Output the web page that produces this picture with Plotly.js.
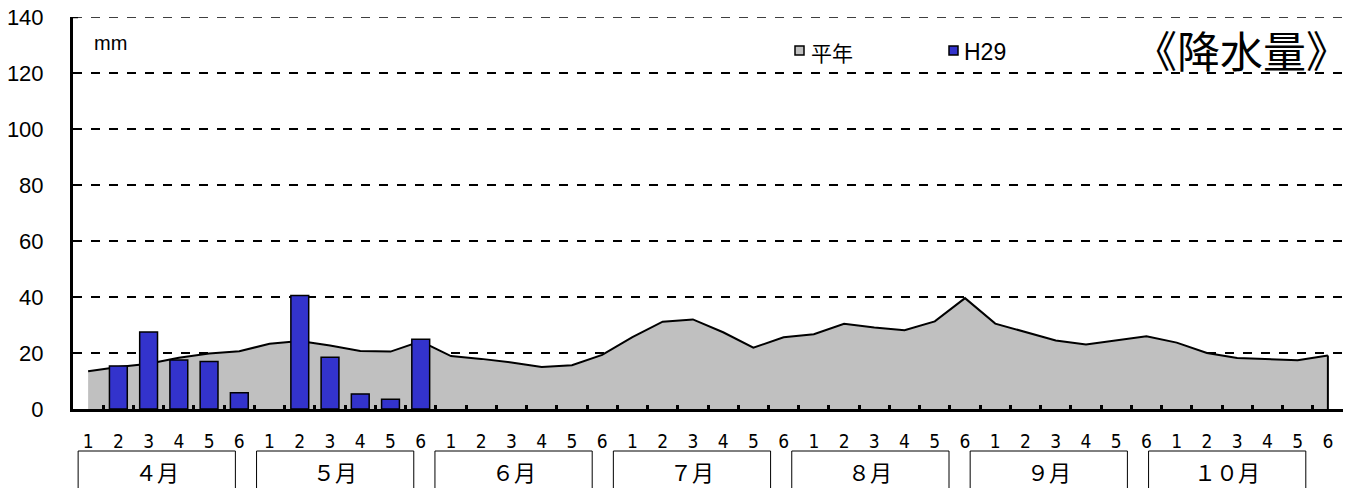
<!DOCTYPE html>
<html><head><meta charset="utf-8">
<script src="https://cdn.plot.ly/plotly-3.0.1.min.js"></script>
<style>html,body{margin:0;padding:0;background:#fff}#chart{width:1348px;height:488px}</style>
</head><body><div id="chart"></div>
<script>
// Data
const months = ['４月','５月','６月','７月','８月','９月','１０月'];
const periodLabels = ['1','2','3','4','5','6'];
const normal = [13.5,15,16.2,18.3,19.8,20.6, 23.3,24.3,22.7,20.7,20.5,24.2,
                18.9,17.9,16.6,15.0,15.6,19.3, 25.7,31.2,32.0,27.4,21.9,25.6,
                26.7,30.4,29.1,28.1,31.3,39.6, 30.5,27.5,24.5,23.0,24.5,26.0,
                23.7,20.0,18.2,17.9,17.4,19.1];
const h29 = [null,15.4,27.5,17.5,17.0,5.8, null,40.5,18.5,5.4,3.5,24.9];
const seriesNames = ['平年','H29'];

const nCat = months.length * periodLabels.length;
const xIdx = Array.from({length:nCat},(_,i)=>i);
const tickText = xIdx.map(i=>periodLabels[i % periodLabels.length]);
const barX = h29.map((_,i)=>i);

const traces = [
  {type:'scatter', mode:'lines', x:xIdx, y:normal, name:seriesNames[0], fill:'tozeroy',
   fillcolor:'#c0c0c0', line:{color:'#000', width:2}, xaxis:'x', yaxis:'y', showlegend:false, hoverinfo:'x+y'},
  {type:'bar', x:barX, y:h29, name:seriesNames[1], width:0.59,
   marker:{color:'#3333cc', line:{color:'#000', width:1.5}}, xaxis:'x2', yaxis:'y2', showlegend:false}
];

const YMAX = 140;
const PX = v => (v-73)/1270;           // page x -> paper
const PY = v => (409-v)/392;           // page y -> paper

const shapes = [];
const annotations = [];
// top gridline (at the range end) and its tick
shapes.push({type:'line', xref:'paper', yref:'y', x0:0, x1:1, y0:YMAX, y1:YMAX, layer:'below',
             line:{color:'#000', width:1.5, dash:'dash'}});
shapes.push({type:'line', xref:'paper', yref:'y', x0:0, x1:PX(78), y0:YMAX, y1:YMAX,
             line:{color:'#000', width:2.5}});
// closing edge of the area at its last point
shapes.push({type:'line', xref:'x', yref:'y', x0:nCat-1, x1:nCat-1, y0:0, y1:normal[nCat-1], line:{color:'#000', width:2}});
months.forEach((m,i)=>{
  const x0 = 5.9*i - 0.33, x1 = 5.9*i + 4.87;
  shapes.push({type:'rect', xref:'x', yref:'paper', x0:x0, x1:x1, y0:-0.25, y1:PY(451),
               line:{color:'#000', width:1}, fillcolor:'rgba(0,0,0,0)', layer:'above'});
  annotations.push({xref:'x', yref:'paper', x:(x0+x1)/2, y:PY(471), text:m, showarrow:false,
                    font:{family:'Noto Sans CJK JP, sans-serif', size:22, color:'#000'}, xanchor:'center', yanchor:'middle'});
});
// legend swatches + real text
shapes.push({type:'rect', xref:'paper', yref:'paper', x0:PX(795), x1:PX(804), y0:PY(55), y1:PY(46),
             fillcolor:'#c0c0c0', line:{color:'#000', width:1.5}});
shapes.push({type:'rect', xref:'paper', yref:'paper', x0:PX(949), x1:PX(958), y0:PY(55), y1:PY(46),
             fillcolor:'#3333cc', line:{color:'#000', width:1.5}});
annotations.push({xref:'paper', yref:'paper', x:PX(809), y:PY(52), text:seriesNames[0], showarrow:false,
  xanchor:'left', yanchor:'middle', font:{family:'Noto Sans CJK JP, sans-serif', size:21, color:'#000'}});
annotations.push({xref:'paper', yref:'paper', x:PX(962), y:PY(52), text:seriesNames[1], showarrow:false,
  xanchor:'left', yanchor:'middle', font:{family:'Liberation Sans, Arial, sans-serif', size:23, color:'#000'}});
annotations.push({xref:'paper', yref:'paper', x:PX(1241), y:PY(49), text:'《降水量》', showarrow:false,
  xanchor:'center', yanchor:'middle', font:{family:'Noto Sans CJK JP, sans-serif', size:43, color:'#000'}});
annotations.push({xref:'paper', yref:'paper', x:PX(92), y:PY(43), text:'mm', showarrow:false,
  xanchor:'left', yanchor:'middle', font:{family:'Liberation Sans, Arial, sans-serif', size:20, color:'#000'}});

const layout = {
  width:1348, height:488,
  margin:{l:73, r:5, t:17, b:79},
  paper_bgcolor:'#fff', plot_bgcolor:'#fff',
  showlegend:false,
  xaxis:{range:[-0.5, nCat-0.5], tickmode:'array', tickvals:xIdx, ticktext:tickText,
         ticks:'', showgrid:false, zeroline:false, showline:true, linecolor:'#000', linewidth:3,
         ticklabelstandoff:13,
         tickfont:{family:'Liberation Sans Narrow, DejaVu Sans Condensed, Liberation Sans, sans-serif', size:19, color:'#000'}},
  xaxis2:{overlaying:'x', matches:'x', range:[-0.5, nCat-0.5], tickmode:'array',
          tickvals:xIdx.slice(1).map(v=>v-0.5), ticks:'inside', ticklen:4, tickwidth:3, tickcolor:'#000',
          showticklabels:false, showgrid:false, zeroline:false, showline:false, side:'bottom'},
  yaxis:{range:[0, YMAX], tickmode:'linear', tick0:0, dtick:20, showgrid:true, gridcolor:'#000', griddash:'dash', gridwidth:1.5,
         zeroline:false, showline:true, linecolor:'#000', linewidth:3, ticks:'inside', ticklen:5, tickwidth:2, tickcolor:'#000',
         ticklabelstandoff:22,
         tickfont:{family:'Liberation Sans, Arial, sans-serif', size:22, color:'#000'}},
  yaxis2:{overlaying:'y', matches:'y', showgrid:false, showticklabels:false, zeroline:false, showline:false, ticks:''},
  shapes:shapes, annotations:annotations
};
Plotly.newPlot('chart', traces, layout, {staticPlot:true});
</script></body></html>
